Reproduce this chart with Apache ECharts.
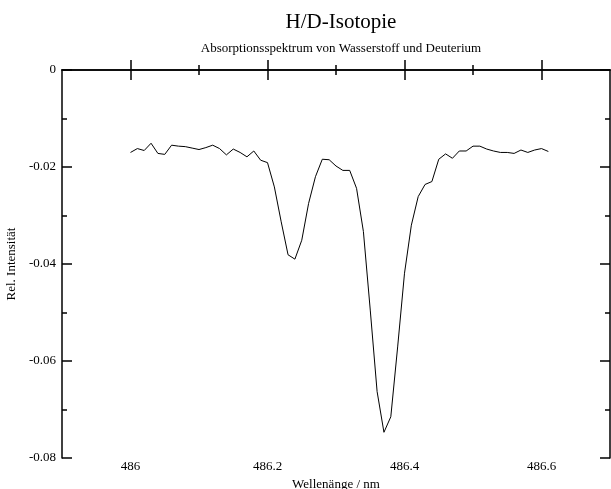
<!DOCTYPE html>
<html>
<head>
<meta charset="utf-8">
<script src="https://cdn.jsdelivr.net/npm/echarts@6/dist/echarts.min.js"></script>
<style>
  html, body { margin: 0; padding: 0; background: #fff; }
  #chart { width: 611px; height: 489px; }
</style>
</head>
<body>
<div id="chart"></div>
<script>
// Wellenlänge (nm)
const wavelengths = [
  486.00, 486.01, 486.02, 486.03, 486.04, 486.05, 486.06, 486.07, 486.08, 486.09,
  486.10, 486.11, 486.12, 486.13, 486.14, 486.15, 486.16, 486.17, 486.18, 486.19,
  486.20, 486.21, 486.22, 486.23, 486.24, 486.25, 486.26, 486.27, 486.28, 486.29,
  486.30, 486.31, 486.32, 486.33, 486.34, 486.35, 486.36, 486.37, 486.38, 486.39,
  486.40, 486.41, 486.42, 486.43, 486.44, 486.45, 486.46, 486.47, 486.48, 486.49,
  486.50, 486.51, 486.52, 486.53, 486.54, 486.55, 486.56, 486.57, 486.58, 486.59,
  486.60, 486.61
]
// Rel. Intensität
const intensity = [
  -0.0170, -0.0162, -0.0166, -0.0151, -0.0172, -0.0174, -0.0155, -0.0157, -0.0158, -0.0161,
  -0.0164, -0.0160, -0.0155, -0.0162, -0.0175, -0.0163, -0.0170, -0.0179, -0.0167, -0.0186,
  -0.0191, -0.0241, -0.0313, -0.0381, -0.0390, -0.0351, -0.0275, -0.0220, -0.0184, -0.0185,
  -0.0198, -0.0207, -0.0207, -0.0244, -0.0333, -0.0495, -0.0663, -0.0747, -0.0715, -0.0571,
  -0.0419, -0.0320, -0.0261, -0.0236, -0.0230, -0.0184, -0.0173, -0.0182, -0.0167, -0.0167,
  -0.0157, -0.0157, -0.0163, -0.0167, -0.0170, -0.0170, -0.0172, -0.0165, -0.0170, -0.0165,
  -0.0162, -0.0168
]
const xMajorTicks = [486, 486.2, 486.4, 486.6]
const xMinorTicks = [486.1, 486.3, 486.5]

const FONT = "'Liberation Serif', 'DejaVu Serif', serif"
const chart = echarts.init(document.getElementById('chart'), null, { renderer: 'canvas' })

const lineStyle = { color: '#000', width: 1.5 }
const xBase = {
  type: 'value',
  min: 485.9,
  max: 486.7,
  splitLine: { show: false }
}

const option = {
  backgroundColor: '#ffffff',
  animation: false,
  title: [
    {
      text: 'H/D-Isotopie',
      left: 336,
      top: 7,
      textAlign: 'center',
      textStyle: { fontFamily: FONT, fontWeight: 'normal', fontSize: 21, color: '#000' }
    },
    {
      text: 'Absorptionsspektrum von Wasserstoff und Deuterium',
      left: 336,
      top: 37,
      textAlign: 'center',
      textStyle: { fontFamily: FONT, fontWeight: 'normal', fontSize: 13, color: '#000' }
    }
  ],
  grid: { left: 62, right: 1, top: 70, bottom: 31, containLabel: false, outerBoundsMode: 'none' },
  xAxis: [
    // unten, Hauptstriche + Beschriftung
    Object.assign({}, xBase, {
      position: 'bottom',
      name: 'Wellenänge / nm',
      nameLocation: 'middle',
      nameGap: 16,
      nameTextStyle: { fontFamily: FONT, fontSize: 13, color: '#000' },
      axisLine: { show: true, lineStyle: lineStyle },
      axisTick: { show: true, inside: true, length: 10, customValues: xMajorTicks, lineStyle: lineStyle },
      axisLabel: {
        customValues: xMajorTicks,
        margin: 2,
        fontFamily: FONT, fontSize: 13, color: '#000',
        formatter: v => String(+v.toFixed(1))
      }
    }),
    // unten, Nebenstriche
    Object.assign({}, xBase, {
      position: 'bottom',
      axisLine: { show: false },
      axisTick: { show: true, inside: true, length: 5, customValues: xMinorTicks, lineStyle: lineStyle },
      axisLabel: { show: false }
    }),
    // oben
    Object.assign({}, xBase, {
      position: 'top',
      axisLine: { show: true, lineStyle: lineStyle },
      axisTick: { show: true, inside: true, length: 10, customValues: xMajorTicks, lineStyle: lineStyle },
      axisLabel: { show: false }
    }),
    Object.assign({}, xBase, {
      position: 'top',
      axisLine: { show: false },
      axisTick: { show: true, inside: true, length: 5, customValues: xMinorTicks, lineStyle: lineStyle },
      axisLabel: { show: false }
    })
  ],
  yAxis: [
    {
      type: 'value',
      position: 'left',
      min: -0.08,
      max: 0,
      interval: 0.02,
      name: 'Rel. Intensität',
      nameLocation: 'middle',
      nameGap: 39,
      nameTextStyle: { fontFamily: FONT, fontSize: 13, color: '#000' },
      axisLine: { show: true, lineStyle: lineStyle },
      axisTick: { show: true, inside: true, length: 10, lineStyle: lineStyle },
      minorTick: { show: true, splitNumber: 2, length: 5, lineStyle: { color: '#000', width: 1.5 } },
      splitLine: { show: false },
      axisLabel: {
        margin: 6,
        fontFamily: FONT, fontSize: 13, color: '#000',
        formatter: v => String(+v.toFixed(2))
      }
    },
    {
      type: 'value',
      position: 'right',
      min: -0.08,
      max: 0,
      interval: 0.02,
      axisLine: { show: true, lineStyle: lineStyle },
      axisTick: { show: true, inside: true, length: 10, lineStyle: lineStyle },
      minorTick: { show: true, splitNumber: 2, length: 5, lineStyle: { color: '#000', width: 1.5 } },
      splitLine: { show: false },
      axisLabel: { show: false }
    }
  ],
  series: [
    {
      type: 'line',
      xAxisIndex: 0,
      yAxisIndex: 0,
      data: wavelengths.map((w, i) => [w, intensity[i]]),
      symbol: 'none',
      lineStyle: { color: '#000', width: 1 }
    }
  ]
}

chart.setOption(option)
</script>
</body>
</html>
